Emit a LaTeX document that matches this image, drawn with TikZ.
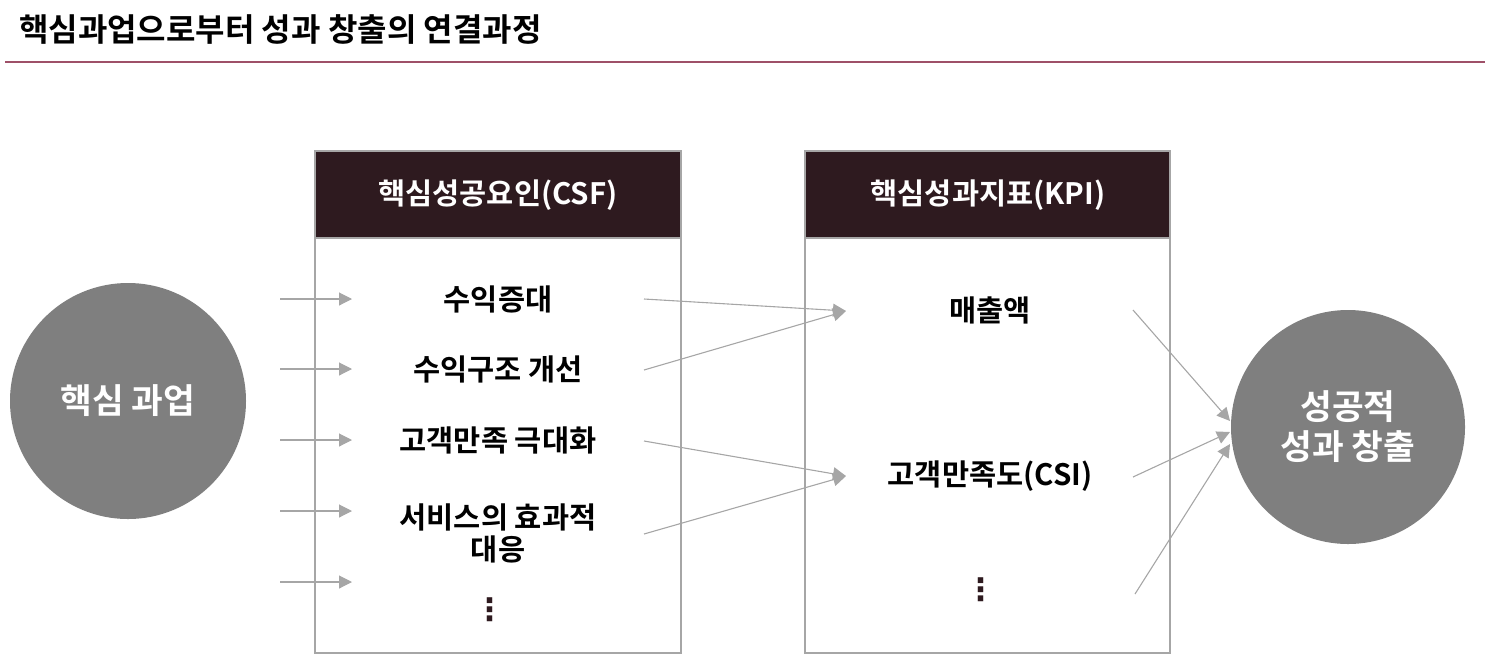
\documentclass[tikz,border=0pt]{standalone}
\usepackage{fontspec}
\setmainfont{Noto Sans CJK KR}[BoldFont={* Bold}]
\newfontfamily\symfont{DejaVu Sans}
\usetikzlibrary{arrows.meta}
\definecolor{hdr}{HTML}{2E1A1F}
\definecolor{rulecol}{HTML}{9E5068}
\definecolor{ln}{HTML}{A6A6A6}
\definecolor{circ}{HTML}{7F7F7F}
\tikzset{
  boxframe/.style={draw=ln, line width=1.3pt},
  hdrbox/.style={fill=hdr, draw=ln, line width=1.3pt},
  hdrtext/.style={text=white, font=\fontsize{29.5}{32}\selectfont\bfseries},
  item/.style={font=\fontsize{29.5}{32}\selectfont\bfseries, align=center, text=black},
  bigcirc/.style={circle, fill=circ, text=white, align=center, font=\fontsize{34.5}{40}\selectfont\bfseries},
  conn/.style={draw=ln, line width=1.1pt, -{Triangle[length=13pt,width=13pt]}},
  vdots/.style={font=\fontsize{31}{31}\selectfont\symfont\bfseries, text=hdr}
}
\begin{document}
\begin{tikzpicture}[x=1pt,y=-1pt]
\useasboundingbox (0,0) rectangle (1485,654);
% title
\node[anchor=west, inner sep=0pt, font=\fontsize{32}{34}\selectfont\bfseries] (title) at (19,29) {핵심과업으로부터 성과 창출의 연결과정};
\draw[rulecol, line width=2pt] (5,61.5) -- (1485,61.5);
% boxes
\draw[boxframe] (315,151) rectangle (681,653);
\draw[hdrbox] (315,151) rectangle (681,238);
\node[hdrtext] (csf) at (498,195) {핵심성공요인(CSF)};
\draw[boxframe] (805,151) rectangle (1170,653);
\draw[hdrbox] (805,151) rectangle (1170,238);
\node[hdrtext] (kpi) at (988,195) {핵심성과지표(KPI)};
% circles
\node[bigcirc, minimum size=236pt, inner sep=0pt] (task) at (128,401) {핵심 과업};
\node[bigcirc, minimum size=234pt, inner sep=0pt] (succ) at (1348,427) {성공적\\성과 창출};
% items
\node[item] (i1) at (498,299) {수익증대};
\node[item] (i2) at (498,369) {수익구조 개선};
\node[item] (i3) at (498,440) {고객만족 극대화};
\node[item] (i4) at (498,533) {서비스의 효과적\\대응};
\node[vdots] (i5) at (490,610) {⋮};
\node[item] (k1) at (990,310) {매출액};
\node[item] (k2) at (990,476) {고객만족도(CSI)};
\node[vdots] (k3) at (981,590) {⋮};
% coordinates for connectors
\foreach \n/\y in {1/299,2/369,3/440,4/511,5/582}{
  \coordinate (ls\n) at (280,\y);
  \coordinate (le\n) at (352,\y);
}
\coordinate (c1) at (644,299);
\coordinate (c2) at (644,370);
\coordinate (c3) at (644,441);
\coordinate (c4) at (644,534);
\coordinate (m1) at (846,311);
\coordinate (m2) at (846,476);
\coordinate (r1) at (1133,310);
\coordinate (r2) at (1133,477);
\coordinate (r3) at (1135,594);
\coordinate (e1) at (1230,421);
\coordinate (e2) at (1230,432);
\coordinate (e3) at (1230,444);
\foreach \n in {1,...,5}{ \draw[conn] (ls\n) -- (le\n); }
\draw[conn] (c1) -- (m1);
\draw[conn] (c2) -- (m1);
\draw[conn] (c3) -- (m2);
\draw[conn] (c4) -- (m2);
\draw[conn] (r1) -- (e1);
\draw[conn] (r2) -- (e2);
\draw[conn] (r3) -- (e3);
\end{tikzpicture}
\end{document}
